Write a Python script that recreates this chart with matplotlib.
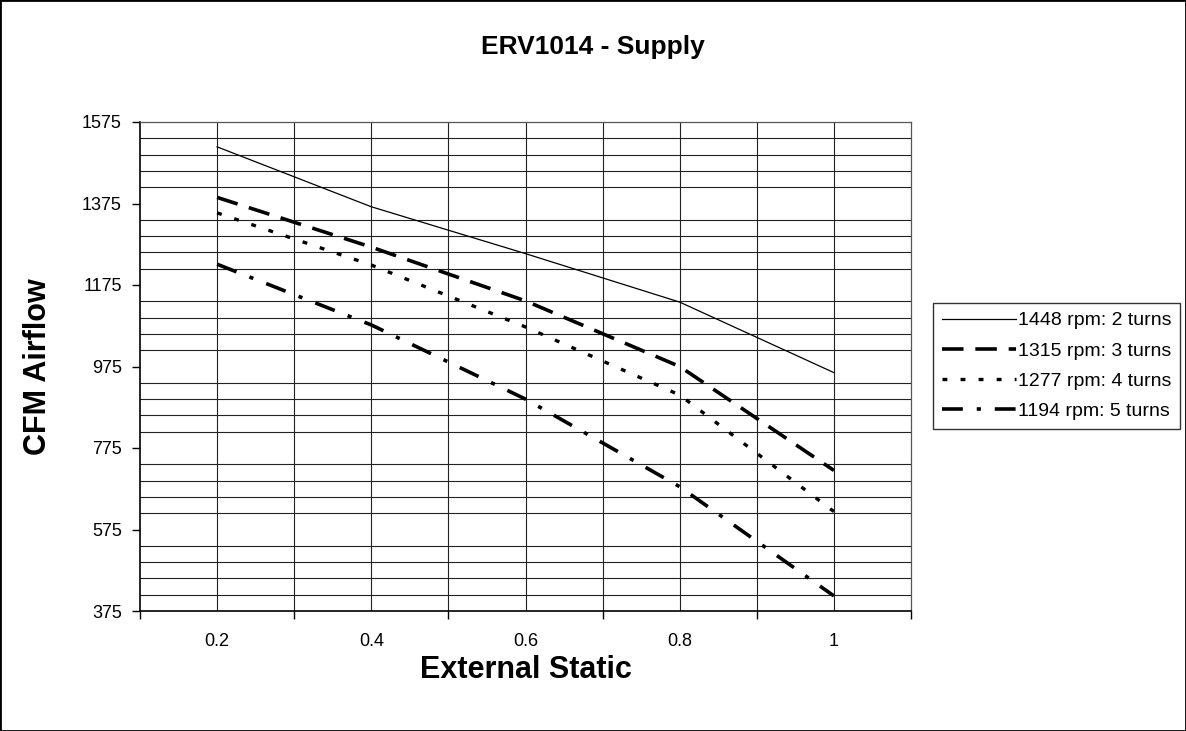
import numpy as np
import matplotlib
matplotlib.use("Agg")
import matplotlib.pyplot as plt
from matplotlib.patches import Rectangle
from matplotlib.ticker import FixedLocator

plt.rcParams["font.family"] = ["Liberation Sans", "DejaVu Sans"]
plt.rcParams["lines.scale_dashes"] = False

# data
static = [0.2, 0.4, 0.6, 0.8, 1.0]
series_labels = ["1448 rpm: 2 turns", "1315 rpm: 3 turns",
                 "1277 rpm: 4 turns", "1194 rpm: 5 turns"]
cfm_1448 = [1514, 1367, 1252, 1133, 960]
cfm_1315 = [1390, 1268, 1136, 975, 720]
cfm_1277 = [1352, 1224, 1072, 905, 619]
cfm_1194 = [1226, 1077, 895, 680, 412]
y_ticks = [375, 575, 775, 975, 1175, 1375, 1575]

fig = plt.figure(figsize=(11.86, 7.31), dpi=100)
ax = fig.add_axes([140 / 1186, 1 - 611 / 731, 771 / 1186, 489 / 731])

ax.plot(static, cfm_1448, color="black", lw=0.9, label=series_labels[0])
ax.plot(static, cfm_1315, color="black", lw=2.6, dashes=(15.5, 8.5),
        label=series_labels[1])
ax.plot(static, cfm_1277, color="black", lw=2.4, dashes=(3.5, 9.5),
        label=series_labels[2])
ax.plot(static, cfm_1194, color="black", lw=2.6, dashes=(15, 10, 3, 10),
        label=series_labels[3])

ax.set_xlim(0.1, 1.1)
ax.set_ylim(375, 1575)

# y: labels every 200, gridlines every 40
ax.yaxis.set_major_locator(FixedLocator(y_ticks))
ax.yaxis.set_minor_locator(FixedLocator(np.arange(375, 1576, 40)))
ax.tick_params(axis="y", which="major", length=6, width=1, direction="out",
               labelsize=13, pad=7)
ax.tick_params(axis="y", which="minor", length=0)
ax.grid(True, axis="y", which="minor", color="#222222", lw=0.8)

# x: labels on every other category, ticks between them
ax.set_xticks(static)
ax.set_xticklabels(["0.2", "0.4", "0.6", "0.8", "1"])
ax.xaxis.set_minor_locator(FixedLocator([0.1, 0.3, 0.5, 0.7, 0.9, 1.1]))
ax.tick_params(axis="x", which="major", length=0, labelsize=13, pad=16)
ax.tick_params(axis="x", which="minor", length=6, width=1, direction="out")
for xv in np.arange(0.2, 1.05, 0.1):
    ax.axvline(xv, color="#222222", lw=0.8, zorder=0.5)

for side in ["left", "bottom"]:
    ax.spines[side].set_linewidth(1.2)
for side in ["top", "right"]:
    ax.spines[side].set_color("#555555")
    ax.spines[side].set_linewidth(0.9)

ax.set_xlabel("External Static", fontsize=22, fontweight="bold", va="center")
ax.xaxis.set_label_coords(0.5, -0.12)
ax.set_ylabel("CFM Airflow", fontsize=22, fontweight="bold", va="center")
ax.yaxis.set_label_coords(-0.132, 0.5)

fig.suptitle("ERV1014 - Supply", fontsize=19, fontweight="bold",
             x=0.5, y=1 - 47 / 731, va="center")

leg = ax.legend(loc="center left", bbox_to_anchor=(933 / 1186, 1 - 366 / 731),
                bbox_transform=fig.transFigure, fontsize=14, frameon=True,
                fancybox=False, edgecolor="black", handlelength=3.8,
                handletextpad=0.1, borderpad=0.45, labelspacing=0.65,
                borderaxespad=0)
leg.get_frame().set_linewidth(1.0)

fig.add_artist(Rectangle((0, 0), 1, 1, transform=fig.transFigure,
                         fill=False, edgecolor="black", lw=2))

fig.savefig("out.png", dpi=100)
